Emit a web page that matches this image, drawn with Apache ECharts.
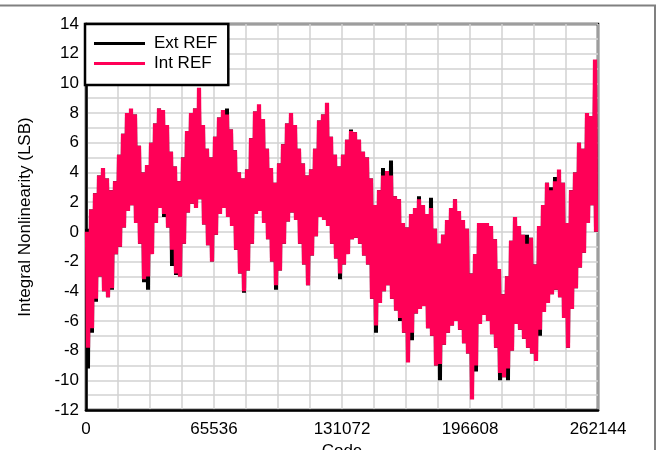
<!DOCTYPE html>
<html>
<head>
<meta charset="utf-8">
<script src="https://cdn.jsdelivr.net/npm/echarts@6/dist/echarts.min.js"></script>
<style>
html,body{margin:0;padding:0;background:#fff;}
#chart{width:660px;height:450px;}
</style>
</head>
<body>
<div id="chart"></div>
<script>
// Code step between envelope samples (LSB codes)
const codeStep = 2048;
const xTicks = [0, 65536, 131072, 196608, 262144];
const yTicks = [-12, -10, -8, -6, -4, -2, 0, 2, 4, 6, 8, 10, 12, 14];
const seriesNames = ['Ext REF', 'Int REF'];

// Int REF: upper / lower envelope of the INL trace per 2048-code slice
const intHigh = [
  0.0, 1.5, 2.6, 3.8, 4.3, 3.6, 2.8, 3.4, 5.2, 6.6, 8.0, 8.3, 7.9, 5.8, 4.0, 4.5,
  6.0, 7.3, 8.3, 8.2, 7.2, 5.4, 4.4, 3.4, 5.0, 6.8, 8.0, 8.3, 9.7, 7.2, 5.6, 5.0,
  6.4, 7.7, 8.2, 7.9, 6.9, 5.5, 4.0, 3.6, 4.2, 6.3, 8.1, 8.6, 7.6, 5.6, 4.3, 3.3,
  4.6, 5.9, 7.3, 8.0, 7.2, 5.6, 4.6, 3.8, 4.2, 5.6, 7.5, 7.9, 8.7, 6.4, 5.2, 4.4,
  5.2, 6.2, 6.8, 6.7, 6.2, 5.4, 5.0, 3.6, 1.8, 2.8, 3.8, 4.1, 3.8, 2.4, 2.2, 0.6,
  0.3, 1.2, 1.6, 2.2, 1.8, 1.2, 1.6, 0.2, -0.8, -0.2, 0.8, 1.6, 2.2, 1.4, 0.8, 0.2,
  -2.8, -1.5, 0.6, 0.6, 0.6, 0.4, -0.5, -2.5, -4.2, -3.0, -0.6, 1.0, 0.4, -0.2, -0.8, -0.4,
  -2.2, 0.4, 1.8, 3.3, 2.8, 3.4, 4.2, 3.3, 0.6, 2.8, 4.0, 6.0, 5.6, 8.0, 7.8, 11.6
];
const intLow = [
  -7.8, -6.5, -4.5, -3.0, -4.0, -4.4, -3.8, -1.5, -1.0, 0.3, 1.4, 1.8, 0.6, -0.8, -3.2, -3.0,
  -1.5, 0.6, 1.6, 1.2, 0.3, -1.2, -2.8, -3.0, -0.8, 1.3, 1.9, 1.6, 2.2, 0.5, -0.9, -2.0,
  -0.2, 1.2, 1.6, 1.0, 0.4, -1.2, -2.8, -4.0, -2.6, -0.8, 1.2, 1.4, 0.6, -0.5, -2.0, -3.6,
  -2.6, -0.8, 0.7, 1.3, 0.8, -0.8, -2.2, -3.6, -1.6, -0.3, 1.0, 0.8, 0.4, -0.8, -1.8, -2.8,
  -2.2, -1.5, -0.5, -0.4, -0.8, -1.6, -2.2, -4.5, -6.3, -4.8, -4.0, -3.6, -4.5, -5.3, -5.8, -6.8,
  -8.8, -6.8, -5.5, -5.2, -5.0, -6.5, -7.0, -9.0, -8.9, -7.6, -6.8, -6.3, -6.0, -6.6, -7.5, -8.2,
  -11.3, -9.0, -6.2, -5.6, -6.0, -6.9, -7.8, -9.5, -9.8, -9.2, -8.0, -6.2, -6.6, -7.2, -7.8, -8.2,
  -8.7, -6.6, -5.4, -4.8, -4.2, -3.9, -4.4, -5.8, -7.8, -5.2, -3.8, -2.4, -1.4, 0.6, 1.8, 0.0
];

// Ext REF: upper / lower envelope per 2048-code slice
const extHigh = [
  0.2, 1.5, 2.6, 3.8, 4.3, 3.6, 2.8, 3.4, 5.2, 6.6, 8.0, 7.9, 7.9, 5.8, 4.0, 4.5,
  6.0, 7.3, 8.3, 8.2, 7.2, 5.4, 4.4, 3.4, 5.0, 6.8, 8.0, 8.3, 8.4, 7.2, 5.6, 5.0,
  6.4, 7.7, 8.2, 8.3, 6.9, 5.5, 4.0, 3.6, 4.2, 6.3, 8.1, 8.2, 7.6, 5.6, 4.3, 3.3,
  4.6, 5.9, 7.3, 8.0, 7.2, 5.6, 4.6, 3.8, 4.2, 5.6, 7.5, 7.9, 8.1, 6.4, 5.2, 4.4,
  5.2, 6.2, 6.9, 6.7, 6.2, 5.4, 5.0, 3.6, 1.8, 2.8, 4.3, 4.1, 4.8, 2.4, 2.2, 0.6,
  0.3, 1.2, 1.6, 2.4, 1.8, 1.2, 2.3, 0.2, -0.8, -0.2, 0.8, 1.6, 2.2, 1.4, 0.8, 0.2,
  -2.8, -1.5, 0.6, 0.6, 0.6, 0.4, -0.5, -2.5, -4.2, -3.0, -0.6, 1.0, 0.4, -0.2, -0.2, -0.4,
  -2.2, 0.4, 1.8, 3.3, 3.0, 3.7, 3.9, 3.3, 0.6, 2.8, 4.0, 6.0, 5.6, 8.0, 7.8, 9.8
];
const extLow = [
  -9.2, -6.8, -4.7, -3.0, -4.0, -4.4, -3.9, -1.5, -1.0, 0.3, 1.4, 1.8, 0.6, -0.8, -3.4, -3.9,
  -1.5, 0.6, 1.6, 1.0, 0.3, -2.3, -2.9, -3.0, -0.8, 1.3, 1.9, 1.6, 2.2, 0.5, -0.9, -2.0,
  -0.2, 1.2, 1.6, 1.0, 0.4, -1.2, -2.8, -4.1, -2.6, -0.8, 1.2, 1.4, 0.6, -0.5, -2.0, -3.9,
  -2.6, -0.8, 0.7, 1.3, 0.8, -0.8, -2.2, -3.6, -1.6, -0.3, 1.0, 0.8, 0.4, -0.8, -1.8, -3.2,
  -2.2, -1.5, -0.5, -0.4, -0.8, -1.6, -2.2, -4.5, -6.8, -4.8, -4.0, -3.6, -4.5, -5.3, -6.0, -6.8,
  -8.6, -7.3, -5.5, -5.2, -5.0, -6.5, -7.0, -9.0, -10.0, -7.6, -6.8, -6.3, -6.0, -6.6, -7.5, -8.2,
  -10.6, -9.4, -6.2, -5.6, -6.0, -6.9, -7.8, -10.0, -9.8, -10.0, -8.0, -6.2, -6.6, -7.2, -7.8, -8.2,
  -8.7, -7.0, -5.4, -4.8, -4.2, -3.9, -4.4, -5.8, -7.8, -5.2, -3.8, -2.4, -1.4, 0.6, 1.8, 0.0
];

// Build the dense trace: within each slice the trace swings between its envelope values
function trace(high, low) {
  const pts = [];
  const q = codeStep / 4;
  high.forEach((h, i) => {
    const c = i * codeStep;
    pts.push([c, h], [c + q, low[i]], [c + 2 * q, h], [c + 3 * q, low[i]]);
  });
  return pts;
}

const FONT = '"Liberation Sans", Arial, sans-serif';
const chart = echarts.init(document.getElementById('chart'), null, {renderer: 'canvas'});
chart.setOption({
  animation: false,
  backgroundColor: '#fff',
  textStyle: {fontFamily: FONT},
  grid: {
    left: 86, right: 62, top: 24, bottom: 40,
    outerBoundsMode: 'none', containLabel: false,
    show: true, borderColor: '#000', borderWidth: 2.5, backgroundColor: 'transparent'
  },
  legend: {
    orient: 'vertical', left: 85, top: 24,
    padding: [11, 11, 13, 9], itemGap: 3,
    itemWidth: 51, itemHeight: 3, icon: 'rect',
    borderColor: '#000', borderWidth: 2.5, backgroundColor: '#fff',
    textStyle: {fontSize: 17, fontFamily: FONT, color: '#000', padding: [0, 0, 0, 4]},
    data: seriesNames
  },
  xAxis: {
    type: 'value', min: xTicks[0], max: xTicks[xTicks.length - 1], interval: 16384,
    name: 'Code', nameLocation: 'middle', nameGap: 33,
    nameTextStyle: {fontSize: 17, fontFamily: FONT, color: '#000'},
    axisLine: {show: true, onZero: false, lineStyle: {color: '#000', width: 2.5}},
    axisTick: {show: false},
    axisLabel: {
      fontSize: 17, fontFamily: FONT, color: '#000', margin: 11,
      formatter: v => (xTicks.indexOf(v) >= 0 ? String(v) : '')
    },
    splitLine: {show: true, lineStyle: {color: '#d2d2d2', width: 1.5}}
  },
  yAxis: {
    type: 'value', min: yTicks[0], max: yTicks[yTicks.length - 1], interval: 1,
    name: 'Integral Nonlinearity (LSB)', nameLocation: 'middle', nameGap: 52,
    nameTextStyle: {fontSize: 17, fontFamily: FONT, color: '#000'},
    axisLine: {show: true, onZero: false, lineStyle: {color: '#000', width: 2.5}},
    axisTick: {show: false},
    axisLabel: {
      fontSize: 17, fontFamily: FONT, color: '#000', margin: 7,
      formatter: v => (yTicks.indexOf(v) >= 0 ? String(v) : '')
    },
    splitLine: {show: true, lineStyle: {color: '#d2d2d2', width: 1.5}}
  },
  series: [
    {
      name: seriesNames[0], type: 'line', data: trace(extHigh, extLow),
      showSymbol: false, symbol: 'none', sampling: null, z: 3,
      lineStyle: {color: '#000', width: 2}, itemStyle: {color: '#000'}
    },
    {
      name: seriesNames[1], type: 'line', data: trace(intHigh, intLow),
      showSymbol: false, symbol: 'none', sampling: null, z: 4,
      lineStyle: {color: '#ff0057', width: 2.2}, itemStyle: {color: '#ff0057'}
    }
  ],
  graphic: [
    {type: 'line', shape: {x1: 0, y1: 5.5, x2: 656, y2: 5.5}, style: {stroke: '#808080', lineWidth: 2}, silent: true},
    {type: 'line', shape: {x1: 655, y1: 5, x2: 655, y2: 450}, style: {stroke: '#808080', lineWidth: 2}, silent: true}
  ]
});
</script>
</body>
</html>
